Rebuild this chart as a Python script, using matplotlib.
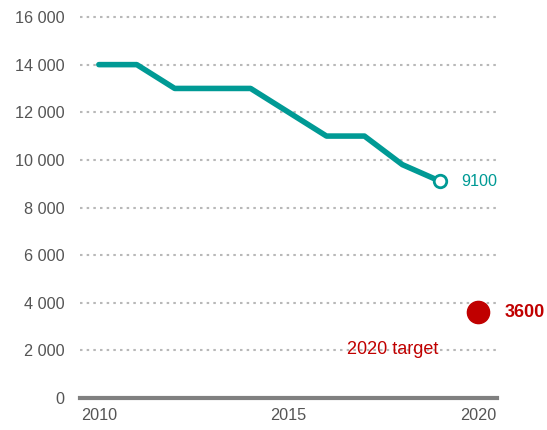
import matplotlib
matplotlib.use('Agg')
import matplotlib.pyplot as plt
from matplotlib.ticker import FuncFormatter

plt.rcParams['font.family'] = ['Liberation Sans', 'DejaVu Sans']

# Data
years = [2010, 2011, 2012, 2013, 2014, 2015, 2016, 2017, 2018, 2019]
values = [14000, 14000, 13000, 13000, 13000, 12000, 11000, 11000, 9800, 9100]
target_year = 2020
target_value = 3600
target_label = '2020 target'

teal = '#009a95'
red = '#c00000'
grey = '#555555'

fig = plt.figure(figsize=(5.47, 4.3), dpi=100)
# top of axes a bit above 16000 so the top gridline is not clipped
ax = fig.add_axes([0.146, 0.0744, 0.763, 0.8916])

ax.plot(years, values, color=teal, linewidth=4, solid_capstyle='round',
        solid_joinstyle='round', zorder=3)
ax.plot(years[-1], values[-1], 'o', markersize=9, markerfacecolor='white',
        markeredgecolor=teal, markeredgewidth=2, zorder=4)
ax.annotate(f'{values[-1]}', (years[-1], values[-1]), xytext=(15, 0),
            textcoords='offset points', color=teal, fontsize=11.7, va='center')

ax.plot(target_year, target_value, 'o', markersize=16, color=red, zorder=4,
        clip_on=False)
ax.annotate(f'{target_value}', (target_year, target_value), xytext=(19, 0),
            textcoords='offset points', color=red, fontsize=13,
            fontweight='bold', va='center', annotation_clip=False)
ax.text(2017.75, 2050, target_label, color=red, fontsize=13, ha='center',
        va='center')

ax.set_xlim(2009.5, 2020.5)
ax.set_ylim(0, 16100)
ax.set_xticks([2010, 2015, 2020])
ax.set_yticks(range(0, 16001, 2000))
ax.yaxis.set_major_formatter(FuncFormatter(lambda v, p: f'{int(v):,}'.replace(',', ' ')))

ax.grid(axis='y', color='#b8b8b8', linestyle=(0, (1.2, 2)), linewidth=1.5)
ax.set_axisbelow(True)
for s in ['left', 'right', 'top']:
    ax.spines[s].set_visible(False)
ax.spines['bottom'].set_color('#808080')
ax.spines['bottom'].set_linewidth(3)
ax.tick_params(length=0, labelsize=11.7, labelcolor=grey)
ax.tick_params(axis='y', pad=11)
ax.tick_params(axis='x', pad=7)

plt.savefig('out.png', dpi=100)
